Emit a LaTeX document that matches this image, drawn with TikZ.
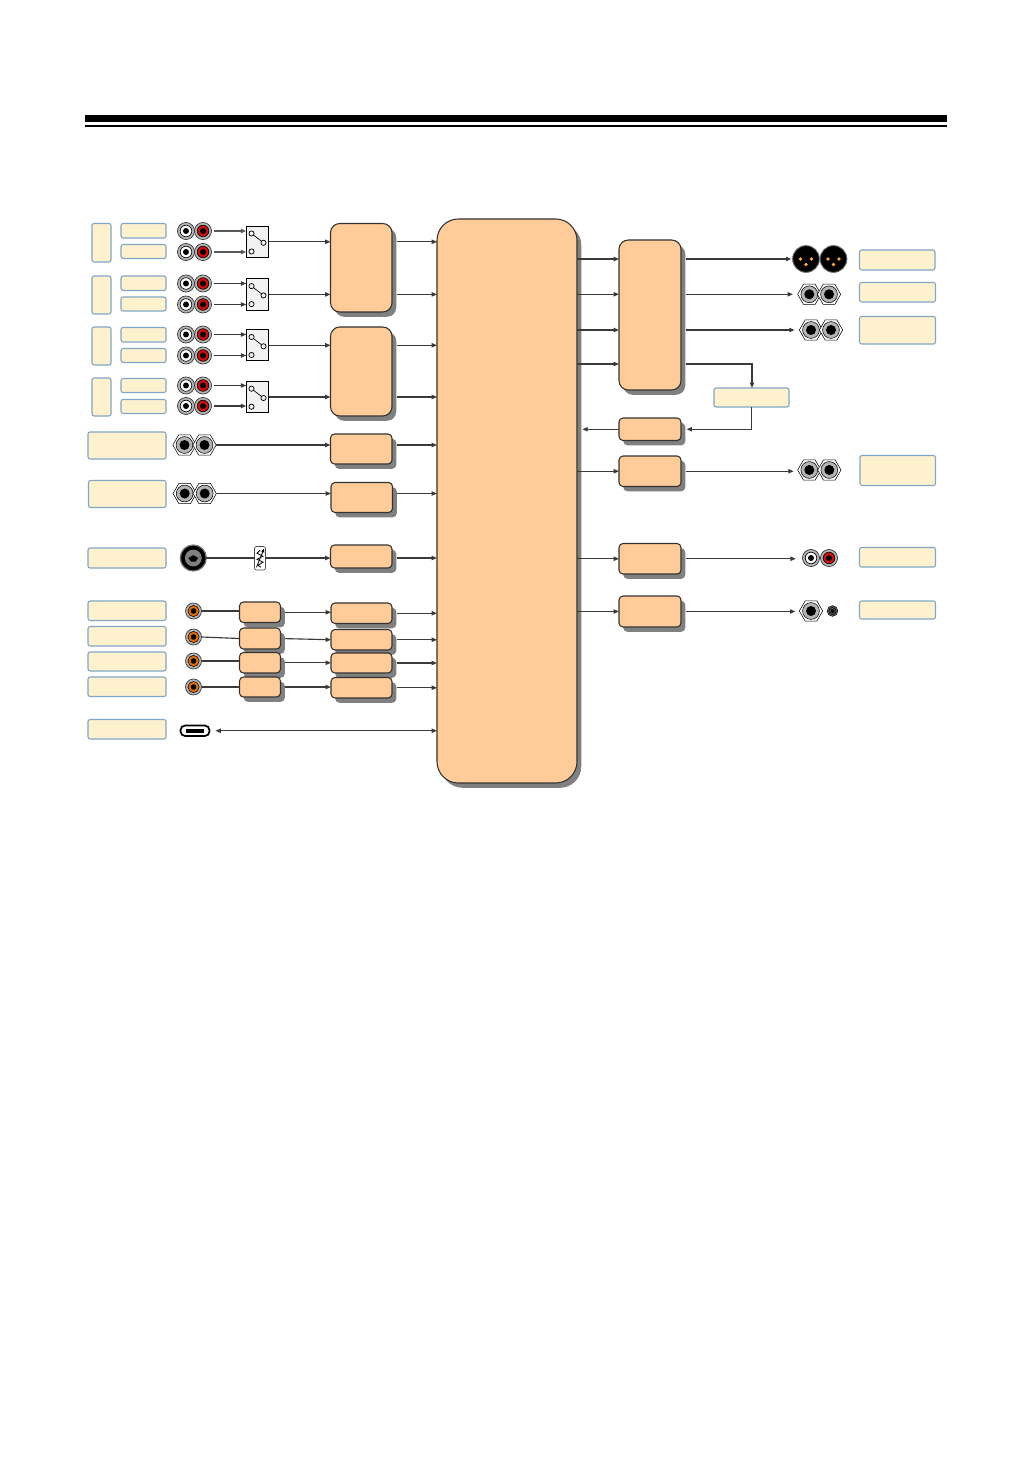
\documentclass[tikz,border=0pt]{standalone}
\usetikzlibrary{arrows.meta,shapes.geometric,shadows,calc}
\definecolor{lblfill}{HTML}{FEF2CE}
\definecolor{lbledge}{HTML}{7FA6C6}
\definecolor{blk}{HTML}{FFCC99}
\definecolor{wire}{HTML}{3A3A3A}
\definecolor{ringg}{HTML}{B4B4B4}
\definecolor{jackorange}{HTML}{E36C0A}
\definecolor{jackred}{HTML}{D0100C}
\definecolor{pincol}{HTML}{F7A83C}
\tikzset{
  x=0.75pt,y=-0.75pt,
  base/.style={rectangle,inner sep=0pt,outer sep=0pt},
  lbl/.style={base,draw=lbledge,line width=0.8pt,fill=lblfill,rounded corners=1.6pt},
  blockbase/.style={base,draw=black!80,line width=0.8pt,fill=blk,
     drop shadow={shadow xshift=3.2pt,shadow yshift=-3.6pt,opacity=1,fill=black!50}},
  blocksm/.style={blockbase,rounded corners=3pt},
  blockmd/.style={blockbase,rounded corners=7pt},
  blockbig/.style={blockbase,rounded corners=16pt},
  swbox/.style={base,draw=black,line width=0.7pt,fill=black!5},
  vr/.style={base,draw=black!70,line width=0.5pt,fill=white,rounded corners=1.5pt},
  usbc/.style={base,draw=black,line width=1.3pt,fill=white,rounded corners=3.5pt},
  jackc/.style={circle,inner sep=0pt,outer sep=0pt,draw=black!80,line width=0.5pt},
  hexn/.style={regular polygon,regular polygon sides=6,inner sep=0pt,outer sep=0pt,
     minimum size=17.5pt,draw=black,line width=0.4pt,fill=white},
  wirel/.style={draw=wire,line width=0.85pt},
  arr/.style={wirel,-{Triangle[length=4pt,width=3.2pt]}},
  darr/.style={wirel,{Triangle[length=4pt,width=3.2pt]}-{Triangle[length=4pt,width=3.2pt]}},
  offsh/.style={shorten <=3.4pt},
  gapsrc/.style={shorten <=2pt},
  heavy/.style={line width=1.2pt,draw=black!65},
}
\newcommand\bx[6]{%
  \pgfmathsetmacro\bw{((#5)-(#3))*0.75}\pgfmathsetmacro\bh{((#6)-(#4))*0.75}%
  \node[#2,minimum width=\bw pt,minimum height=\bh pt] (#1) at ({((#3)+(#5))/2},{((#4)+(#6))/2}) {};}
\newcommand\rcaj[4]{%
  \node[jackc,fill=ringg,minimum size=12.8pt] (#1) at (#2,#3) {};
  \draw[black,line width=0.5pt,fill=#4] (#1) circle[radius=5.8];
  \fill[black] (#1) circle[radius=3];}
\newcommand\hexj[3]{%
  \node[hexn] (#1) at (#2,#3) {};
  \draw[black,line width=0.4pt,fill=ringg] (#1) circle[radius=8.4];
  \fill[black] (#1) circle[radius=5];}
\newcommand\orj[3]{%
  \node[jackc,fill=ringg,minimum size=12pt] (#1) at (#2,#3) {};
  \draw[black,line width=0.4pt,fill=jackorange] (#1) circle[radius=5.6];
  \fill[black] (#1) circle[radius=2.8];}
\newcommand\xlrj[3]{%
  \node[jackc,fill=black,draw=black!60,line width=0.7pt,minimum size=20pt] (#1) at (#2,#3) {};
  \fill[pincol] ($(#1)+(-5.5,0)$) circle[radius=1.8];
  \fill[pincol] ($(#1)+(5.5,0)$) circle[radius=1.8];
  \fill[pincol] ($(#1)+(0,5.5)$) circle[radius=1.8];}
\newcommand\swt[3]{%
  \bx{#1}{swbox}{#2-11.3}{#3-15.6}{#2+11.3}{#3+15.6}
  \draw[black,line width=0.5pt] ($(#1)+(-6,-8.3)$) -- ($(#1)+(6,1)$);
  \draw[black,line width=0.55pt,fill=black!5] ($(#1)+(-6,-8.3)$) circle[radius=2.6];
  \draw[black,line width=0.55pt,fill=black!5] ($(#1)+(6,1)$) circle[radius=2.6];
  \draw[black,line width=0.55pt,fill=black!5] ($(#1)+(-6,9.7)$) circle[radius=2.6];}
\begin{document}
\begin{tikzpicture}
\useasboundingbox (0,0) rectangle (1032,1458);
\fill[white] (0,0) rectangle (1032,1458);
% header rule
\coordinate (hl) at (85,118.5); \coordinate (hr) at (946.5,118.5);
\draw[black,line width=5.2pt] (hl) -- (hr);
\draw[black,line width=1.5pt] ($(hl)+(0,8)$) -- ($(hr)+(0,8)$);
% left labels
\bx{tl1}{lbl}{92}{223.5}{111}{262}
\bx{tl2}{lbl}{92}{276}{111}{314}
\bx{tl3}{lbl}{92}{327}{111}{365}
\bx{tl4}{lbl}{92}{378}{111}{416}
\bx{sl1}{lbl}{121}{223.5}{166}{238}
\bx{sl2}{lbl}{121}{244.5}{166}{258.5}
\bx{sl3}{lbl}{121}{276}{166}{290.5}
\bx{sl4}{lbl}{121}{297}{166}{311}
\bx{sl5}{lbl}{121}{327.5}{166}{342}
\bx{sl6}{lbl}{121}{348.5}{166}{362.5}
\bx{sl7}{lbl}{121}{378.5}{166}{392.5}
\bx{sl8}{lbl}{121}{399.5}{166}{413.5}
\bx{ll1}{lbl}{88}{432}{166}{459}
\bx{ll2}{lbl}{88.5}{480.5}{166}{507.5}
\bx{ll3}{lbl}{88}{548}{166}{568}
\bx{ll4}{lbl}{88}{601}{166}{620.5}
\bx{ll5}{lbl}{88}{626.5}{166}{646}
\bx{ll6}{lbl}{88}{652}{166}{671}
\bx{ll7}{lbl}{88}{677}{166}{696.5}
\bx{ll8}{lbl}{88}{719.5}{166}{739}
% right labels
\bx{rl1}{lbl}{859.5}{250}{935}{270}
\bx{rl2}{lbl}{859.5}{282.5}{935.5}{302}
\bx{rl3}{lbl}{859.5}{316.5}{935.5}{344}
\bx{rl4}{lbl}{860}{455.5}{935.5}{485.5}
\bx{rl5}{lbl}{859.5}{547.5}{935.5}{567}
\bx{rl6}{lbl}{859.5}{601}{935.5}{619}
\bx{midl}{lbl}{714}{388}{789}{407}
% RCA pairs
\rcaj{wa}{186}{231}{white}\rcaj{ra}{203}{231}{jackred}
\rcaj{wb}{186}{252}{white}\rcaj{rb}{203}{252}{jackred}
\rcaj{wc}{186}{283.5}{white}\rcaj{rc}{203}{283.5}{jackred}
\rcaj{wd}{186}{304.5}{white}\rcaj{rd}{203}{304.5}{jackred}
\rcaj{we}{186}{334.5}{white}\rcaj{re}{203}{334.5}{jackred}
\rcaj{wf}{186}{355.5}{white}\rcaj{rf}{203}{355.5}{jackred}
\rcaj{wg}{186}{385.5}{white}\rcaj{rg}{203}{385.5}{jackred}
\rcaj{wh}{186}{406}{white}\rcaj{rh}{203}{406}{jackred}
% switches
\swt{swa}{257.5}{241.8}
\swt{swb}{257.5}{294.4}
\swt{swc}{257.5}{345.3}
\swt{swd}{257.5}{397}
% blocks
\bx{main}{blockbig}{437}{219}{577}{783}
\bx{ba}{blockmd}{330.5}{223.5}{392}{312}
\bx{bb}{blockmd}{330.5}{327}{392}{416}
\bx{bc}{blocksm}{330.5}{434}{392}{464}
\bx{bd}{blocksm}{331}{482.5}{392.5}{512.5}
\bx{be}{blocksm}{330.5}{545}{392}{568}
\bx{bf}{blocksm}{331}{603}{392}{623.5}
\bx{bg}{blocksm}{331}{629.5}{392}{650}
\bx{bh}{blocksm}{331}{653}{392}{673}
\bx{bi}{blocksm}{331}{677.5}{392}{698}
\bx{pa}{blocksm}{239.5}{602}{280.5}{622.5}
\bx{pb}{blocksm}{239.5}{628}{280.5}{649}
\bx{pc}{blocksm}{239.5}{652.5}{280.5}{673}
\bx{pd}{blocksm}{239.5}{677}{280.5}{697}
\bx{ra1}{blockmd}{619}{240}{681}{390}
\bx{ra2}{blocksm}{619}{418}{681}{440.5}
\bx{ra3}{blocksm}{619}{456}{681}{486.5}
\bx{ra4}{blocksm}{619}{543.5}{681}{574}
\bx{ra5}{blocksm}{619}{596}{681}{627}
% hex jacks left
\hexj{ha}{184.5}{445}\hexj{hb}{204.5}{445}
\hexj{hc}{184.7}{493.5}\hexj{hd}{204.7}{493.5}
% combo jack
\node[jackc,fill=black,draw=black!55,line width=0.9pt,minimum size=19.5pt] (combo) at (193.3,558) {};
\fill[black!50] (combo) circle[radius=8.4];
\fill[black] ($(combo)+(-5,0)$) -- ($(combo)+(0,-2.8)$) -- ($(combo)+(5,0)$) -- ($(combo)+(2.2,3.6)$) -- ($(combo)+(-2.2,3.6)$) -- cycle;
% variable resistor
\bx{varr}{vr}{254.5}{546.5}{265.5}{570}
\draw[black,line width=0.6pt] ($(varr)+(0,-8)$) -- ($(varr)+(-3,-5)$) -- ($(varr)+(3,-2)$) -- ($(varr)+(-3,1)$) -- ($(varr)+(3,4)$) -- ($(varr)+(-2,7)$) -- ($(varr)+(1,9)$);
\draw[black,line width=0.6pt,-{Triangle[length=2.6pt,width=2.4pt]}] ($(varr)+(-3.5,9)$) -- ($(varr)+(4,-9.5)$);
% orange jacks
\orj{oa}{193.5}{611}\orj{ob}{193.5}{637}\orj{oc}{193.5}{661}\orj{od}{193.5}{687}
% usb-c
\bx{usb}{usbc}{180.5}{725.5}{209.5}{736}
\fill[black] (186,729) rectangle (204,733);
% right jacks
\xlrj{xa}{806}{259}\xlrj{xb}{833.5}{259}
\hexj{he}{809.3}{294.3}\hexj{hf}{829}{294.3}
\hexj{hg}{811}{330}\hexj{hh}{831}{330}
\hexj{hi}{809.3}{470}\hexj{hj}{829.3}{470}
\rcaj{wi}{811}{558}{white}\rcaj{ri}{829}{558}{jackred}
\hexj{hk}{811}{611}
\node[jackc,fill=black!55,draw=black,line width=0.4pt,minimum size=8pt] (mini) at (832.5,611) {};
\draw[black,line width=0.5pt,fill=black!65] (mini) circle[radius=3.6];
\fill[black] (mini) circle[radius=2];
% connectors: RCA to switches
\draw[arr,gapsrc,heavy] (ra.east) -- (ra.east -| swa.west);
\draw[arr,gapsrc,heavy] (rb.east) -- (rb.east -| swa.west);
\draw[arr,gapsrc] (rc.east) -- (rc.east -| swb.west);
\draw[arr,gapsrc] (rd.east) -- (rd.east -| swb.west);
\draw[arr,gapsrc] (re.east) -- (re.east -| swc.west);
\draw[arr,gapsrc] (rf.east) -- (rf.east -| swc.west);
\draw[arr,gapsrc] (rg.east) -- (rg.east -| swd.west);
\draw[arr,gapsrc] (rh.east) -- (rh.east -| swd.west);
% switches to blocks, blocks to main
\draw[arr] (swa.east) -- (swa.east -| ba.west);
\draw[arr] (swb.east) -- (swb.east -| ba.west);
\draw[arr] (swc.east) -- (swc.east -| bb.west);
\draw[arr] (swd.east) -- (swd.east -| bb.west);
\draw[arr,offsh] (swa.east -| ba.east) -- (swa.east -| main.west);
\draw[arr,offsh] (swb.east -| ba.east) -- (swb.east -| main.west);
\draw[arr,offsh] (swc.east -| bb.east) -- (swc.east -| main.west);
\draw[arr,offsh] (swd.east -| bb.east) -- (swd.east -| main.west);
\draw[arr] (hb.east) -- (hb.east -| bc.west);
\draw[arr] (hd.east) -- (hd.east -| bd.west);
\draw[arr,offsh] (hb.east -| bc.east) -- (hb.east -| main.west);
\draw[arr,offsh] (hd.east -| bd.east) -- (hd.east -| main.west);
\draw[wirel] (combo.east) -- (varr.west |- combo.east);
\draw[arr] (varr.east |- combo.east) -- (combo.east -| be.west);
\draw[arr,offsh] (be.east |- combo.east) -- (combo.east -| main.west);
\draw[wirel] (oa.east) -- (oa.east -| pa.west);
\draw[wirel] (ob.east) -- (pb.west);
\draw[wirel] (oc.east) -- (oc.east -| pc.west);
\draw[wirel] (od.east) -- (od.east -| pd.west);
\draw[arr,offsh] (pa.east) -- (pa.east -| bf.west);
\draw[arr,offsh] (pb.east) -- (bg.west);
\draw[arr,offsh] (pc.east) -- (pc.east -| bh.west);
\draw[arr,offsh] (pd.east) -- (pd.east -| bi.west);
\draw[arr,offsh] (bf.east) -- (bf.east -| main.west);
\draw[arr,offsh] (bg.east) -- (bg.east -| main.west);
\draw[arr,offsh] (bh.east) -- (bh.east -| main.west);
\draw[arr,offsh] (bi.east) -- (bi.east -| main.west);
\draw[darr,shorten <=4.5pt] (usb.east) -- (usb.east -| main.west);
% right side
\coordinate (tap) at (752,364);
\draw[arr] (xa.west -| main.east) -- (xa.west -| ra1.west);
\draw[arr] (he.west -| main.east) -- (he.west -| ra1.west);
\draw[arr] (hg.west -| main.east) -- (hg.west -| ra1.west);
\draw[arr] (tap -| main.east) -- (tap -| ra1.west);
\draw[arr,offsh,shorten >=1pt] (xa.west -| ra1.east) -- (xa.west);
\draw[arr,offsh,shorten >=3.5pt] (he.west -| ra1.east) -- (he.west);
\draw[arr,offsh,shorten >=3.5pt] (hg.west -| ra1.east) -- (hg.west);
\draw[arr,offsh,line width=1.2pt] (tap -| ra1.east) -- (tap) -- (tap |- midl.north);
\draw[arr,shorten >=4.2pt] (midl.south) |- (ra2.east);
\draw[arr,shorten >=4pt] (ra2.west) -- (ra2.west -| main.east);
\draw[arr] (ra3.west -| main.east) -- (ra3.west);
\draw[arr,offsh,shorten >=3pt] (ra3.east) -- (ra3.east -| hi.west);
\draw[arr] (ra4.west -| main.east) -- (ra4.west);
\draw[arr,offsh,shorten >=5pt] (ra4.east) -- (ra4.east -| wi.west);
\draw[arr] (ra5.west -| main.east) -- (ra5.west);
\draw[arr,offsh,shorten >=3pt] (ra5.east) -- (ra5.east -| hk.west);
\end{tikzpicture}
\end{document}
